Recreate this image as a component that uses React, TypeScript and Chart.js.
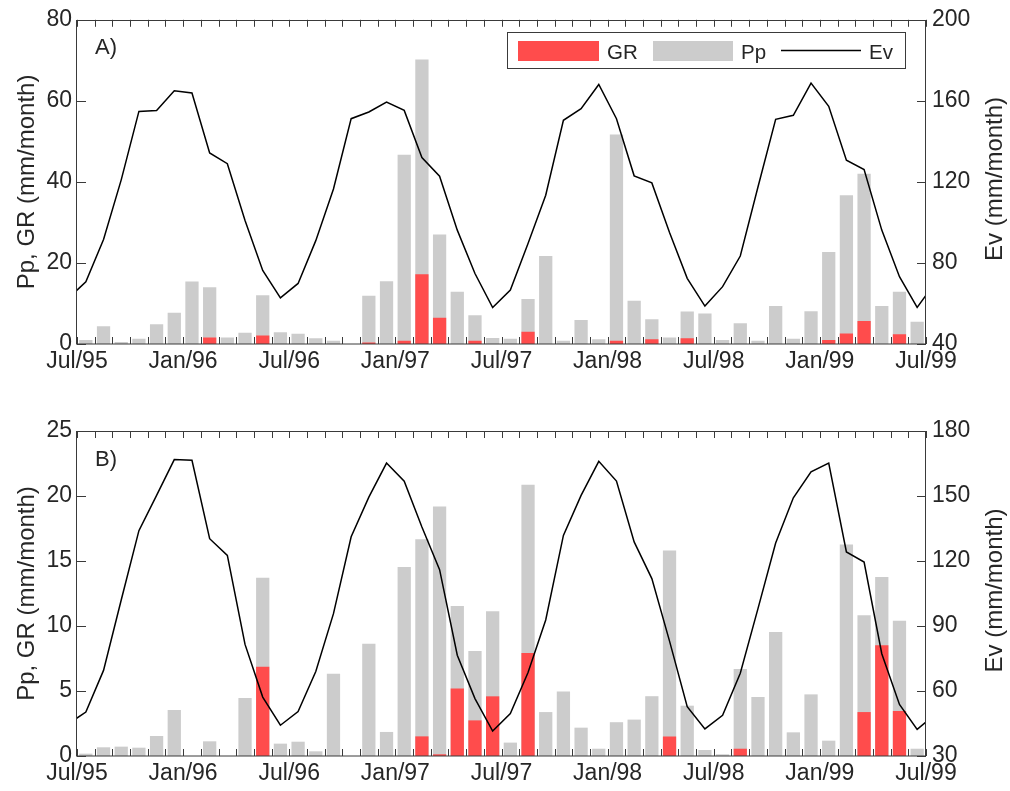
import React, { useEffect, useRef } from "react";
import { Chart, registerables } from "chart.js";

Chart.register(...registerables);

// ---------- data ----------
// x-axis tick labels (every 6 months, Jul/95 .. Jul/99)
const TICK_LABELS = ["Jul/95", "Jan/96", "Jul/96", "Jan/97", "Jul/97", "Jan/98", "Jul/98", "Jan/99", "Jul/99"];

// Monthly values, Jul/95 .. Jun/99 (48 months)
const PP_A = [1.0, 4.4, 0.5, 1.3, 4.9, 7.7, 15.4, 14.0, 1.6, 2.8, 12.0, 2.9, 2.5, 1.4, 0.8, 0, 11.9, 15.5, 46.7, 70.2, 27.0, 12.9, 7.1, 1.5,
  1.3, 11.1, 21.7, 0.8, 5.9, 1.2, 51.7, 10.7, 6.1, 1.6, 8.0, 7.5, 1.0, 5.1, 0.8, 9.4, 1.3, 8.1, 22.7, 36.7, 42.0, 9.4, 12.9, 5.5];
const GR_A = [0, 0, 0, 0, 0, 0, 0, 1.6, 0, 0, 2.1, 0, 0, 0, 0, 0, 0.4, 0, 0.8, 17.2, 6.5, 0, 0.8, 0,
  0, 3.0, 0, 0, 0, 0, 0.8, 0, 1.2, 0, 1.4, 0, 0, 0, 0, 0, 0, 0, 1.0, 2.6, 5.7, 0, 2.4, 0];
// Ev, Jun/95 .. Jul/99 (50 months, ends clipped by the axes)
const EV_A = [62.5, 70.7, 91.6, 121, 154.8, 155.2, 165.0, 163.9, 134.3, 129.0, 101, 76.3, 62.8, 69.9, 91, 116.5, 151.2, 154.5, 159.4, 155.3, 132, 122.8, 96.2, 74.8, 58.0,
  66.6, 89.6, 113.4, 150.4, 156.1, 168.1, 151.2, 123.0, 119.5, 95, 72.4, 58.7, 68.3, 83.4, 117.5, 150.9, 152.9, 168.8, 157.3, 130.7, 126.1, 96.2, 73.2, 58.1, 70];

const PP_B = [0.18, 0.67, 0.72, 0.64, 1.54, 3.54, 0, 1.13, 0, 4.46, 13.72, 0.95, 1.10, 0.36, 6.33, 0, 8.64, 1.85, 14.54, 16.67, 19.2, 11.54, 8.08, 11.13,
  1.03, 20.87, 3.38, 4.97, 2.18, 0.56, 2.6, 2.8, 4.6, 15.8, 3.87, 0.46, 0.13, 6.7, 4.54, 9.54, 1.82, 4.74, 1.18, 16.26, 10.82, 13.77, 10.41, 0.56];
const GR_B = [0, 0, 0, 0, 0, 0, 0, 0, 0, 0, 6.87, 0, 0, 0, 0, 0, 0, 0, 0, 1.51, 0.13, 5.2, 2.74, 4.59,
  0, 7.92, 0, 0, 0, 0, 0, 0, 0, 1.5, 0, 0, 0, 0.56, 0, 0, 0, 0, 0, 0, 3.38, 8.51, 3.46, 0];
const EV_B = [44.8, 50.3, 69.5, 102, 134, 150.3, 166.8, 166.5, 130.3, 122.6, 81.5, 57.2, 44.2, 50.5, 69, 95.7, 131.2, 149.5, 165.2, 156.8, 135.7, 116, 76.5, 56.5, 41.5,
  49.6, 68.5, 92.8, 131.8, 150.3, 166, 156.9, 128.8, 111.9, 83, 52.8, 42.5, 48.8, 68.2, 98, 128.3, 149.2, 161.1, 165.2, 124.2, 119.5, 77.2, 53.8, 42.3, 49];

const LEFT_TICKS_A = { min: 0, max: 80, step: 20 };
const RIGHT_TICKS_A = { min: 40, max: 200, step: 40 };
const LEFT_TICKS_B = { min: 0, max: 25, step: 5 };
const RIGHT_TICKS_B = { min: 30, max: 180, step: 30 };

// ---------- style ----------
const FONT = "'Liberation Sans', Arial, sans-serif";
const TEXT = "#262626";
const AXIS = "#3a3a3a";
const RED = "#ff4c4c";
const GREY = "#cccccc";

const W = 1010;

type PanelOpts = {
  letter: string;
  pp: number[];
  gr: number[];
  ev: number[];
  left: { min: number; max: number; step: number };
  right: { min: number; max: number; step: number };
  height: number;
  padTop: number;
  xHeight: number;
  legend: boolean;
  letterY: number;
};

const framePlugin = {
  id: "frame",
  afterDraw(chart: any, _args: any, opts: any) {
    const { ctx, chartArea } = chart;
    const { left, right, top, bottom } = chartArea;
    const xs = chart.scales.x;
    const yl = chart.scales.y;
    const yr = chart.scales.y1;
    ctx.save();
    ctx.strokeStyle = AXIS;
    ctx.lineWidth = 1;
    ctx.beginPath();
    xs.ticks.forEach((t: any) => {
      const px = Math.round(xs.getPixelForValue(t.value)) + 0.5;
      ctx.moveTo(px, bottom);
      ctx.lineTo(px, bottom - 7);
      ctx.moveTo(px, top);
      ctx.lineTo(px, top + 7);
    });
    yl.ticks.forEach((t: any) => {
      const py = Math.round(yl.getPixelForValue(t.value)) + 0.5;
      ctx.moveTo(left, py);
      ctx.lineTo(left + 9, py);
    });
    yr.ticks.forEach((t: any) => {
      const py = Math.round(yr.getPixelForValue(t.value)) + 0.5;
      ctx.moveTo(right, py);
      ctx.lineTo(right - 9, py);
    });
    ctx.stroke();
    ctx.strokeRect(Math.round(left) - 0.5, Math.round(top) + 0.5, Math.round(right - left), Math.round(bottom - top) - 0.5);

    // axis titles
    ctx.fillStyle = TEXT;
    ctx.font = `24px ${FONT}`;
    ctx.textAlign = "center";
    ctx.textBaseline = "middle";
    const cy = (top + bottom) / 2;
    ctx.save();
    ctx.translate(27.5, cy);
    ctx.rotate(-Math.PI / 2);
    ctx.fillText("Pp, GR (mm/month)", 0, 0);
    ctx.restore();
    ctx.save();
    ctx.translate(995, cy - 3);
    ctx.rotate(-Math.PI / 2);
    ctx.fillText("Ev (mm/month)", 0, 0);
    ctx.restore();

    // panel letter
    ctx.font = `22px ${FONT}`;
    ctx.textAlign = "left";
    ctx.textBaseline = "alphabetic";
    ctx.fillText(opts.letter, 95, opts.letterY);

    if (opts.legend) {
      const ds = chart.data.datasets;
      const gr = ds.find((d: any) => d.label === "GR");
      const pp = ds.find((d: any) => d.label === "Pp");
      const ev = ds.find((d: any) => d.label === "Ev");
      ctx.fillStyle = "#ffffff";
      ctx.fillRect(507.5, 32.5, 398, 36);
      ctx.strokeStyle = AXIS;
      ctx.strokeRect(507.5, 32.5, 398, 36);
      ctx.fillStyle = gr.backgroundColor;
      ctx.fillRect(518, 41, 81, 20);
      ctx.fillStyle = pp.backgroundColor;
      ctx.fillRect(653, 41, 80, 20);
      ctx.strokeStyle = ev.borderColor;
      ctx.lineWidth = 1.5;
      ctx.beginPath();
      ctx.moveTo(781, 50.5);
      ctx.lineTo(861, 50.5);
      ctx.stroke();
      ctx.fillStyle = TEXT;
      ctx.font = `20.5px ${FONT}`;
      ctx.fillText(gr.label, 607, 59);
      ctx.fillText(pp.label, 741, 59);
      ctx.fillText(ev.label, 869, 59);
    }
    ctx.restore();
  },
};

function buildConfig(p: PanelOpts): any {
  const tickFont = { family: FONT, size: 23 };
  return {
    type: "bar",
    data: {
      datasets: [
        {
          type: "line",
          label: "Ev",
          data: p.ev.map((v, i) => ({ x: i - 0.5, y: v })),
          yAxisID: "y1",
          borderColor: "#000000",
          borderWidth: 1.5,
          pointRadius: 0,
          tension: 0,
          fill: false,
          order: 0,
        },
        {
          label: "GR",
          data: p.gr.map((v, i) => ({ x: i + 0.5, y: v })),
          yAxisID: "y",
          backgroundColor: RED,
          borderWidth: 0,
          grouped: false,
          categoryPercentage: 1,
          barPercentage: 0.75,
          order: 1,
        },
        {
          label: "Pp",
          data: p.pp.map((v, i) => ({ x: i + 0.5, y: v })),
          yAxisID: "y",
          backgroundColor: GREY,
          borderWidth: 0,
          grouped: false,
          categoryPercentage: 1,
          barPercentage: 0.75,
          order: 2,
        },
      ],
    },
    options: {
      responsive: false,
      animation: false,
      events: [],
      layout: { padding: { top: p.padTop, left: 0, right: 0, bottom: 0 } },
      plugins: {
        legend: { display: false },
        tooltip: { enabled: false },
        frame: { letter: p.letter, legend: p.legend, letterY: p.letterY },
      },
      scales: {
        x: {
          type: "linear",
          min: 0,
          max: 48,
          offset: false,
          grid: { display: false, drawTicks: false, offset: false },
          border: { display: false },
          ticks: {
            stepSize: 1,
            autoSkip: false,
            maxRotation: 0,
            minRotation: 0,
            padding: 4,
            color: TEXT,
            font: tickFont,
            callback: (v: number) => (v % 6 === 0 ? TICK_LABELS[v / 6] : ""),
          },
          afterFit: (s: any) => {
            s.height = p.xHeight;
          },
        },
        y: {
          type: "linear",
          position: "left",
          min: p.left.min,
          max: p.left.max,
          grid: { display: false, drawTicks: false },
          border: { display: false },
          ticks: { stepSize: p.left.step, padding: 5, color: TEXT, font: tickFont },
          afterFit: (s: any) => {
            s.width = 77;
          },
        },
        y1: {
          type: "linear",
          position: "right",
          min: p.right.min,
          max: p.right.max,
          grid: { display: false, drawTicks: false },
          border: { display: false },
          ticks: { stepSize: p.right.step, padding: 6, color: TEXT, font: tickFont },
          afterFit: (s: any) => {
            s.width = 84;
          },
        },
      },
    },
    plugins: [framePlugin],
  };
}

function Panel({ opts, top }: { opts: PanelOpts; top: number }) {
  const ref = useRef<HTMLCanvasElement | null>(null);
  useEffect(() => {
    if (!ref.current) return;
    const chart = new Chart(ref.current, buildConfig(opts));
    return () => chart.destroy();
  }, []);
  return (
    <canvas
      ref={ref}
      width={W}
      height={opts.height}
      style={{ position: "absolute", left: 0, top, width: W, height: opts.height }}
    />
  );
}

const PANEL_A: PanelOpts = {
  letter: "A)",
  pp: PP_A,
  gr: GR_A,
  ev: EV_A,
  left: LEFT_TICKS_A,
  right: RIGHT_TICKS_A,
  height: 395,
  padTop: 19,
  xHeight: 51,
  legend: true,
  letterY: 54,
};

const PANEL_B: PanelOpts = {
  letter: "B)",
  pp: PP_B,
  gr: GR_B,
  ev: EV_B,
  left: LEFT_TICKS_B,
  right: RIGHT_TICKS_B,
  height: 396,
  padTop: 36,
  xHeight: 35,
  legend: false,
  letterY: 71,
};

export default function App() {
  return (
    <div style={{ position: "absolute", left: 0, top: 0, width: W, height: 791, background: "#ffffff" }}>
      <Panel opts={PANEL_A} top={0} />
      <Panel opts={PANEL_B} top={395} />
    </div>
  );
}
